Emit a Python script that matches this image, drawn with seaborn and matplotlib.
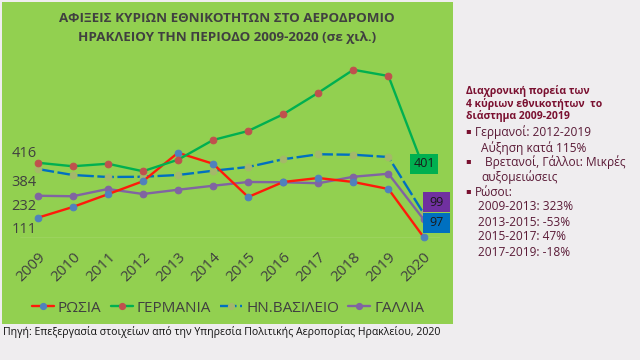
import matplotlib
matplotlib.use("Agg")
import matplotlib.pyplot as plt
import seaborn as sns
import pandas as pd
from matplotlib.lines import Line2D
from matplotlib.patches import Rectangle

sns.set_theme(style="white")
plt.rcParams['font.family'] = ['Open Sans', 'DejaVu Sans']

years = [2009, 2010, 2011, 2012, 2013, 2014, 2015, 2016, 2017, 2018, 2019, 2020]
russia = [79, 122, 173, 225, 339, 295, 162, 222, 238, 222, 194, 2]
germany = [299, 285, 295, 265, 311, 390, 426, 493, 579, 671, 646, 280]
uk = [274, 250, 242, 243, 250, 267, 282, 313, 333, 331, 322, 97]
france = [167, 165, 194, 174, 191, 207, 222, 221, 217, 243, 255, 73]
series_names = ["ΡΩΣΙΑ", "ΓΕΡΜΑΝΙΑ", "ΗΝ.ΒΑΣΙΛΕΙΟ", "ΓΑΛΛΙΑ"]
ytick_pos = [343, 230, 130, 39]
ytick_labels = ["416", "384", "232", "111"]
labels_2020 = ["401", "99", "97"]

title = "ΑΦΙΞΕΙΣ ΚΥΡΙΩΝ ΕΘΝΙΚΟΤΗΤΩΝ ΣΤΟ ΑΕΡΟΔΡΟΜΙΟ\nΗΡΑΚΛΕΙΟΥ ΤΗΝ ΠΕΡΙΟΔΟ 2009-2020 (σε χιλ.)"
source = "Πηγή: Επεξεργασία στοιχείων από την Υπηρεσία Πολιτικής Αεροπορίας Ηρακλείου, 2020"

df = pd.DataFrame({"idx": list(range(len(years))) * 4,
                   "value": russia + germany + uk + france,
                   "series": sum([[n] * len(years) for n in series_names], [])})

line_colors = ["#ff1a0a", "#00b050", "#0070c0", "#8064a2"]
marker_colors = ["#4f81bd", "#c0504d", "#a5b86a", "#8064a2"]
styles = ["-", "-", (0, (7, 1.5)), "-"]

fig = plt.figure(figsize=(6.4, 3.6), dpi=100)
fig.patch.set_facecolor("#efedef")
W, H = 640, 360

def fx(px):
    return px / W

def fy(py):
    return 1 - py / H

# green panel
fig.patches.append(Rectangle((fx(2), fy(324)), fx(451), 322 / H, transform=fig.transFigure,
                             facecolor="#92d050", edgecolor="none", zorder=-5))

ax = fig.add_axes([fx(20), fy(237.5), fx(420), (237.5 - 60) / H])
ax.set_zorder(2)
ax.set_facecolor("none")
ax.patch.set_alpha(0)
for s in ax.spines.values():
    s.set_visible(False)

ax.axhline(0, color="#c4e39a", lw=1.0, zorder=1)

order = [2, 3, 0, 1]
for i in order:
    name = series_names[i]
    sub = df[df["series"] == name]
    sns.lineplot(data=sub, x="idx", y="value", ax=ax, color=line_colors[i],
                 linewidth=1.7, linestyle=styles[i], marker="o", markersize=4.8,
                 markerfacecolor=marker_colors[i], markeredgecolor=marker_colors[i],
                 legend=False, clip_on=False, zorder=3, errorbar=None)

ax.set_xlim(-0.505, 11.47)
ax.set_ylim(0, 710)
ax.set_xticks(range(len(years)))
ax.set_xticklabels([str(y) for y in years], rotation=45, ha="right",
                   rotation_mode="anchor", fontsize=11, color="#404040")
ax.set_yticks(ytick_pos)
ax.set_yticklabels(ytick_labels, fontsize=10.5, color="#404040")
ax.tick_params(axis="y", length=0, pad=-12)
ax.tick_params(axis="x", length=0, pad=9)
ax.set_xlabel("")
ax.set_ylabel("")

# data label boxes for 2020
box_specs = [(410, 154, 28, 20, "#00b050", labels_2020[0]),
             (423, 192, 27, 20, "#7030a0", labels_2020[1]),
             (423, 213, 27, 20, "#0070c0", labels_2020[2])]
for (bx, by, bw, bh, c, t) in box_specs:
    fig.patches.append(Rectangle((fx(bx), fy(by + bh)), fx(bw), bh / H,
                                 transform=fig.transFigure, facecolor=c,
                                 edgecolor="none", zorder=5))
    fig.text(fx(bx + bw / 2), fy(by + bh / 2), t, ha="center", va="center",
             fontsize=9, color="#1a1a1a", zorder=6)

fig.text(fx(227), fy(28), title, ha="center", va="center", fontsize=9.6,
         fontweight="bold", color="#404040", linespacing=1.6)

handles = [Line2D([0], [0], color=line_colors[i], lw=1.7, linestyle=styles[i],
                  marker="o", markersize=4.2, markerfacecolor=marker_colors[i],
                  markeredgecolor=marker_colors[i]) for i in range(4)]
fig.legend(handles, series_names, loc="center", bbox_to_anchor=(fx(228), fy(308)),
           ncol=4, frameon=False, fontsize=11, labelcolor="#404040",
           handlelength=1.45, handletextpad=0.25, columnspacing=0.6)

fig.text(fx(3), fy(332), source, ha="left", va="center", fontsize=7.6, color="#111111")

# right panel text
tc = "#7a1030"
bc = "#5a1a36"
for (y, t) in [(91, "Διαχρονική πορεία των"), (103.5, "4 κύριων εθνικοτήτων  το"),
               (116, "διάστημα 2009-2019")]:
    fig.text(fx(466), fy(y), t, fontsize=7.5, fontweight="bold", color=tc, va="center")

lines = [
    (465, 132, "▪"), (475, 132, "Γερμανοί: 2012-2019"),
    (481, 148, "Αύξηση κατά 115%"),
    (465, 162, "▪"), (485, 162, "Βρετανοί, Γάλλοι: Μικρές"),
    (481, 177, "αυξομειώσεις"),
    (465, 192, "▪"), (475, 192, "Ρώσοι:"),
    (478, 207, "2009-2013: 323%"),
    (478, 222, "2013-2015: -53%"),
    (478, 237, "2015-2017: 47%"),
    (478, 252, "2017-2019: -18%"),
]
for (x, y, t) in lines:
    fig.text(fx(x), fy(y), t, fontsize=8.6 if t != "▪" else 6, color=bc if t != "▪" else tc,
             va="center", ha="left")

fig.savefig("out.png", dpi=100, facecolor=fig.get_facecolor())
